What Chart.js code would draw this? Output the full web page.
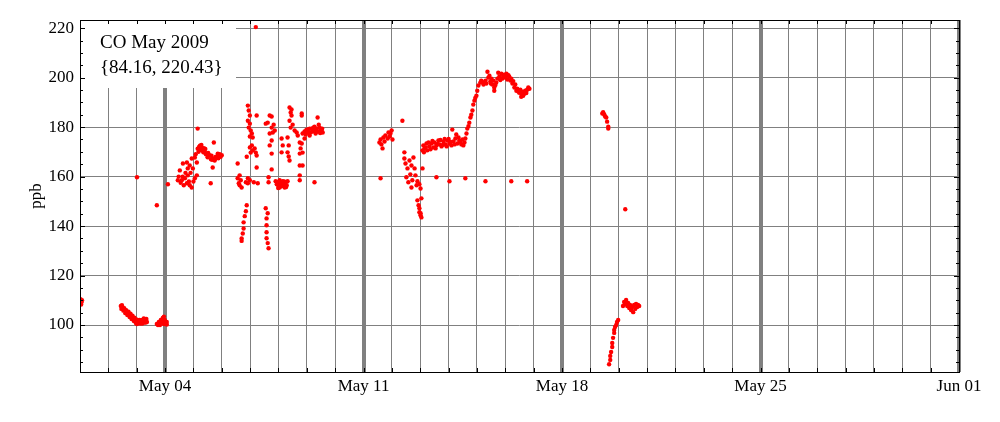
<!DOCTYPE html>
<html>
<head>
<meta charset="utf-8">
<script src="https://cdn.jsdelivr.net/npm/chart.js@4"></script>
<style>
  body { margin: 0; background: #fff; }
  canvas { display: block; }
</style>
</head>
<body>
<canvas id="coChart" width="1000" height="422"></canvas>
<script>
// days since May 1 2009 00:00, CO in ppb
const may01 = [[0.02, 110.4], [0.05, 109.2], [0.07, 110.0], [0.04, 108.3]];

const may02to03 = [
    [1.44, 107.7], [1.46, 106.5], [1.48, 108.0], [1.51, 106.9], [1.53, 105.8], [1.58, 106.0],
    [1.60, 104.8], [1.65, 105.2], [1.67, 104.0], [1.69, 104.8], [1.73, 104.4], [1.75, 103.2],
    [1.80, 103.6], [1.82, 102.4], [1.83, 103.2], [1.87, 102.8], [1.90, 101.6], [1.94, 102.0],
    [1.97, 100.8], [2.01, 101.2], [2.01, 100.4], [2.04, 100.8], [2.08, 100.8], [2.10, 102.0],
    [2.15, 101.6], [2.18, 102.0], [2.20, 100.6], [2.22, 101.2], [2.25, 102.6], [2.29, 102.0],
    [2.32, 101.0], [2.36, 101.2], [1.49, 107.0], [1.56, 106.8], [1.63, 106.0], [1.71, 105.4],
    [1.78, 104.6], [1.85, 103.8], [1.92, 103.0], [1.99, 102.2], [2.06, 101.8], [2.13, 100.6],
    [2.27, 101.0], [2.34, 102.4], [2.01, 159.7], [2.71, 148.4]
];

const may04 = [
    [2.71, 100.4], [2.75, 100.0], [2.78, 101.2], [2.82, 100.0], [2.85, 102.0], [2.88, 101.0],
    [2.92, 102.8], [2.96, 100.4], [2.96, 103.4], [2.99, 102.0], [3.03, 101.2], [3.06, 101.2],
    [3.06, 100.2], [2.94, 101.6], [3.01, 100.6], [3.10, 156.9]
];

const may04to06 = [
    [3.45, 158.5], [3.48, 160.0], [3.52, 162.5], [3.55, 157.5], [3.59, 158.5], [3.62, 160.0],
    [3.63, 165.3], [3.66, 156.5], [3.70, 159.3], [3.72, 161.5], [3.77, 157.3], [3.77, 165.7],
    [3.80, 160.5], [3.80, 163.3], [3.84, 158.0], [3.87, 156.5], [3.87, 164.5], [3.90, 161.5],
    [3.94, 155.6], [3.94, 167.3], [3.98, 163.3], [4.00, 158.0], [4.05, 159.3], [4.05, 167.7],
    [4.08, 169.0], [4.12, 160.5], [4.12, 165.7], [4.15, 171.3], [4.15, 179.4], [4.18, 170.0],
    [4.20, 172.0], [4.23, 172.5], [4.27, 171.0], [4.30, 171.7], [4.33, 170.5], [4.37, 171.5],
    [4.40, 170.0], [4.44, 169.0], [4.47, 169.3], [4.50, 167.8], [4.54, 168.8], [4.58, 168.5],
    [4.61, 157.3], [4.62, 167.0], [4.66, 166.8], [4.68, 163.7], [4.70, 167.3], [4.72, 173.8],
    [4.75, 166.5], [4.79, 168.0], [4.82, 167.6], [4.86, 169.3], [4.90, 168.2], [4.93, 169.0],
    [4.96, 168.0], [5.00, 168.6], [4.22, 170.6], [4.28, 172.8], [4.35, 169.8], [4.42, 171.2],
    [4.52, 169.6], [4.64, 168.4], [4.77, 167.2], [4.88, 167.4]
];

const may06to09 = [
    [5.56, 165.3], [5.56, 159.3], [5.60, 157.3], [5.63, 156.5], [5.67, 158.5], [5.70, 155.6],
    [5.63, 160.5], [5.88, 148.4], [5.85, 146.0], [5.81, 144.0], [5.77, 141.5], [5.77, 139.0],
    [5.74, 137.0], [5.70, 135.0], [5.70, 134.0], [5.92, 188.7], [5.95, 186.7], [5.99, 184.7],
    [5.92, 182.6], [5.99, 181.4], [5.95, 179.8], [6.02, 178.6], [6.06, 177.4], [5.99, 176.2],
    [6.09, 175.8], [5.99, 171.8], [6.09, 170.6], [6.20, 169.7], [6.23, 168.5], [6.23, 163.7],
    [5.92, 159.3], [5.99, 158.5], [6.13, 157.7], [6.27, 157.3], [6.23, 184.7], [6.06, 172.6],
    [5.88, 168.0], [6.02, 169.7], [6.16, 171.4], [5.85, 157.7], [5.92, 157.3], [6.20, 220.43],
    [6.69, 184.7], [6.76, 184.3], [6.55, 181.4], [6.62, 181.8], [6.76, 179.8], [6.80, 177.8],
    [6.69, 177.4], [6.83, 181.0], [6.76, 174.6], [6.69, 172.6], [6.76, 169.3], [6.87, 178.6],
    [6.55, 147.2], [6.62, 145.2], [6.58, 143.1], [6.58, 140.3], [6.58, 137.5], [6.58, 135.1],
    [6.62, 133.1], [6.65, 131.0], [6.76, 162.9], [6.65, 159.7], [6.65, 157.7],
    [6.90, 158.1], [6.94, 156.9], [6.97, 157.7], [7.01, 156.0], [7.04, 158.5], [7.08, 157.3],
    [7.11, 156.1], [7.15, 158.1], [7.18, 156.9], [7.22, 155.6], [7.25, 157.7], [7.29, 156.5],
    [7.32, 158.1], [7.04, 155.6], [7.11, 175.4], [7.15, 172.6], [7.11, 169.8], [7.32, 175.8],
    [7.36, 172.6], [7.32, 169.8], [7.39, 166.5], [7.36, 168.1], [7.43, 185.9], [7.46, 184.7],
    [7.39, 182.6], [7.50, 181.0], [7.43, 179.8], [7.39, 187.9], [7.46, 187.1], [7.57, 178.6],
    [7.64, 177.8], [7.68, 176.6], [7.75, 173.8], [7.82, 173.4], [7.78, 171.4], [7.75, 169.3],
    [7.85, 169.7], [7.75, 164.5], [7.85, 164.5], [7.75, 160.5], [7.75, 158.5], [7.82, 185.5],
    [7.82, 184.7], [7.85, 177.4], [7.92, 178.2], [7.92, 175.4], [7.99, 179.0], [8.03, 177.8],
    [8.10, 176.6], [8.10, 179.4], [8.17, 179.4], [8.20, 178.2], [8.27, 180.2], [8.27, 178.6],
    [8.35, 179.4], [8.38, 178.2], [8.45, 179.8], [8.49, 178.6], [8.52, 178.6], [8.56, 177.8],
    [8.31, 177.4], [8.42, 181.0], [8.38, 183.9], [8.27, 157.7], [7.96, 177.0], [8.06, 179.2],
    [8.13, 177.8], [8.23, 179.8], [8.33, 178.8], [8.47, 177.6], [8.54, 179.4], [6.99, 155.4],
    [7.06, 157.0], [7.20, 158.0], [7.27, 155.8]
];

const may11to13 = [
    [10.56, 173.8], [10.60, 175.0], [10.63, 173.0], [10.67, 171.4], [10.70, 175.8], [10.74, 174.2],
    [10.77, 176.6], [10.85, 175.4], [10.88, 177.8], [10.92, 176.2], [10.99, 178.6], [11.02, 175.0],
    [10.95, 177.4], [10.60, 159.3], [11.37, 182.6],
    [11.44, 169.8], [11.44, 167.3], [11.48, 165.3], [11.55, 163.3], [11.62, 166.5], [11.69, 164.5],
    [11.76, 167.7], [11.80, 163.3], [11.51, 159.7], [11.58, 157.7], [11.65, 160.9], [11.72, 158.5],
    [11.83, 160.5], [11.90, 158.1], [11.97, 156.9], [12.01, 155.2], [12.04, 151.2], [11.90, 150.4],
    [11.94, 148.4], [11.97, 147.2], [11.97, 145.6], [12.01, 144.4], [12.04, 143.5], [12.01, 145.2],
    [12.08, 163.3], [11.87, 156.5], [11.69, 155.6]
];

const may13to15 = [
    [12.08, 170.6], [12.11, 172.6], [12.15, 171.4], [12.22, 173.4], [12.25, 170.6], [12.32, 172.2],
    [12.39, 173.4], [12.46, 171.8], [12.50, 173.8], [12.57, 172.6], [12.64, 174.6], [12.68, 173.0],
    [12.75, 172.2], [12.82, 174.2], [12.89, 173.0], [12.96, 174.6], [13.03, 173.4], [13.10, 172.6],
    [13.13, 179.0], [13.17, 174.2], [13.24, 175.4], [13.27, 177.0], [13.31, 173.4], [13.38, 174.6],
    [13.45, 173.0], [13.49, 175.0], [13.56, 173.8], [13.59, 175.4], [13.63, 177.4], [13.66, 179.4],
    [13.73, 181.8], [13.77, 183.9], [13.84, 186.7], [13.87, 189.1], [13.91, 190.7], [13.98, 192.7],
    [14.01, 194.7], [14.05, 196.8], [14.12, 198.0], [14.15, 198.8], [12.13, 169.8], [12.19, 171.8],
    [12.29, 173.8], [12.36, 171.0], [12.43, 174.4], [12.54, 171.4], [12.61, 173.2], [12.71, 174.8],
    [12.79, 172.8], [12.86, 175.2], [12.93, 172.2], [13.00, 175.2], [13.07, 174.0], [13.21, 173.0],
    [13.35, 175.8], [13.42, 174.0], [13.52, 172.6], [13.70, 180.4], [13.80, 185.0], [13.94, 191.8],
    [12.57, 159.7], [13.03, 158.1], [13.59, 159.3], [14.30, 158.1], [15.21, 158.1], [15.77, 158.1]
];

const may15to16 = [
    [14.23, 197.2], [14.30, 198.8], [14.33, 197.6], [14.37, 202.4], [14.40, 200.0], [14.44, 200.8],
    [14.47, 198.4], [14.51, 199.6], [14.54, 197.2], [14.58, 198.8], [14.61, 196.0], [14.61, 194.7],
    [14.68, 198.0], [14.72, 199.6], [14.75, 202.0], [14.79, 200.4], [14.86, 201.6], [14.89, 199.6],
    [14.96, 201.2], [15.00, 200.0], [15.04, 201.6], [15.07, 199.2], [15.14, 200.4], [15.18, 198.8],
    [15.21, 199.6], [15.25, 197.6], [15.32, 196.0], [15.35, 197.2], [15.39, 194.7], [15.42, 195.5],
    [15.49, 193.9], [15.53, 195.1], [15.56, 192.3], [15.60, 194.3], [15.67, 193.5], [15.70, 194.7],
    [15.77, 195.1], [15.81, 196.0], [15.85, 195.5], [15.63, 192.7], [14.20, 198.2], [14.27, 197.8],
    [14.49, 197.6], [14.65, 197.0], [14.82, 199.0], [14.93, 200.6], [15.11, 201.0], [15.28, 198.6],
    [15.46, 194.4], [15.58, 193.4], [15.74, 193.8]
];

const may19to20 = [
    [18.42, 185.5], [18.45, 186.0], [18.49, 185.1], [18.52, 184.3], [18.56, 183.9], [18.59, 182.2],
    [18.63, 180.2], [18.63, 179.4], [19.23, 146.8],
    [18.66, 84.16], [18.70, 85.9], [18.70, 87.5], [18.73, 89.1], [18.77, 91.1], [18.77, 92.7],
    [18.80, 94.8], [18.84, 96.8], [18.84, 98.0], [18.87, 99.2], [18.91, 100.0], [18.94, 101.2],
    [18.98, 102.0],
    [19.15, 107.7], [19.19, 109.3], [19.23, 108.5], [19.26, 110.1], [19.30, 107.7], [19.33, 108.9],
    [19.37, 106.9], [19.40, 108.1], [19.44, 106.0], [19.47, 107.3], [19.51, 105.2], [19.54, 108.1],
    [19.58, 106.5], [19.61, 108.5], [19.65, 107.3], [19.68, 108.1], [19.72, 107.7]
];

const weekDays = [3, 10, 17, 24, 31];
const weekLabels = ['May 04', 'May 11', 'May 18', 'May 25', 'Jun 01'];
const yTicks = [100, 120, 140, 160, 180, 200, 220];
const minorYTicks = [85, 90, 95, 105, 110, 115, 125, 130, 135, 145, 150, 155, 165, 170, 175, 185, 190, 195, 205, 210, 215];

const titleLines = ['CO May 2009', '{84.16, 220.43}'];

const allPoints = [].concat(may01, may02to03, may04, may04to06, may06to09,
    may11to13, may13to15, may15to16, may19to20)
    .map(p => ({ x: p[0], y: p[1] }));

const serif = '"Liberation Serif", "DejaVu Serif", serif';

const frameAndLabels = {
    id: 'frameAndLabels',
    beforeDatasetsDraw(chart) {
        const c = chart.ctx;
        const a = chart.chartArea;
        c.save();
        c.fillStyle = '#fff';
        c.fillRect(a.left + 1, a.top + 1, 155, 67);
        c.fillStyle = '#000';
        c.font = '19px ' + serif;
        c.textBaseline = 'alphabetic';
        c.fillText(titleLines[0], 100, 48);
        c.fillText(titleLines[1], 100, 73);
        c.restore();
    },
    afterDraw(chart) {
        const c = chart.ctx;
        const a = chart.chartArea;
        const x = chart.scales.x;
        const y = chart.scales.y;
        c.save();
        c.strokeStyle = '#000';
        c.lineWidth = 1;
        c.beginPath();
        // ticks on all four sides, pointing inwards
        for (let d = 1; d < 31; d++) {
            const px = Math.round(x.getPixelForValue(d)) + 0.5;
            c.moveTo(px, a.bottom);
            c.lineTo(px, a.bottom - 4);
            c.moveTo(px, a.top);
            c.lineTo(px, a.top + 4);
        }
        for (const v of yTicks) {
            const py = Math.round(y.getPixelForValue(v)) + 0.5;
            c.moveTo(a.left, py);
            c.lineTo(a.left + 5, py);
            c.moveTo(a.right, py);
            c.lineTo(a.right - 5, py);
        }
        for (const v of minorYTicks) {
            const py = Math.round(y.getPixelForValue(v)) + 0.5;
            c.moveTo(a.left, py);
            c.lineTo(a.left + 3, py);
            c.moveTo(a.right, py);
            c.lineTo(a.right - 3, py);
        }
        c.stroke();
        c.strokeRect(Math.round(a.left) + 0.5, Math.round(a.top) + 0.5,
            Math.round(a.right - a.left), Math.round(a.bottom - a.top));

        c.fillStyle = '#000';
        c.font = '17px ' + serif;
        c.translate(37, (a.top + a.bottom) / 2);
        c.rotate(-Math.PI / 2);
        c.textAlign = 'center';
        c.textBaseline = 'middle';
        c.fillText('ppb', 0, 0);
        c.restore();
    }
};

const ctx = document.getElementById('coChart');

const coChart = new Chart(ctx, {
    type: 'scatter',
    data: {
        datasets: [{
            label: 'CO',
            data: allPoints,
            pointRadius: 2.2,
            pointBorderWidth: 0,
            pointBackgroundColor: '#ff0000',
            pointHoverRadius: 2.2
        }]
    },
    options: {
        responsive: false,
        animation: false,
        layout: {
            padding: { top: 20, right: 41, left: 0, bottom: 0 }
        },
        plugins: {
            legend: { display: false },
            tooltip: { enabled: false }
        },
        scales: {
            x: {
                type: 'linear',
                min: 0,
                max: 31,
                afterFit: (scale) => { scale.height = 50; },
                grid: {
                    color: '#808080',
                    lineWidth: (c) => weekDays.includes(c.tick && c.tick.value) ? 4 : 1,
                    drawTicks: false
                },
                border: { display: false },
                ticks: {
                    stepSize: 1,
                    autoSkip: false,
                    maxRotation: 0,
                    padding: 4,
                    color: '#000',
                    font: { family: serif, size: 17 },
                    callback: (value) => {
                        const i = weekDays.indexOf(value);
                        return i >= 0 ? weekLabels[i] : '';
                    }
                }
            },
            y: {
                min: 81,
                max: 223.3,
                afterBuildTicks: (scale) => { scale.ticks = yTicks.map(v => ({ value: v })); },
                afterFit: (scale) => { scale.width = 80; },
                grid: {
                    color: '#808080',
                    drawTicks: false
                },
                border: { display: false },
                ticks: {
                    padding: 6,
                    color: '#000',
                    font: { family: serif, size: 17 }
                }
            }
        }
    },
    plugins: [frameAndLabels]
});
</script>
</body>
</html>
